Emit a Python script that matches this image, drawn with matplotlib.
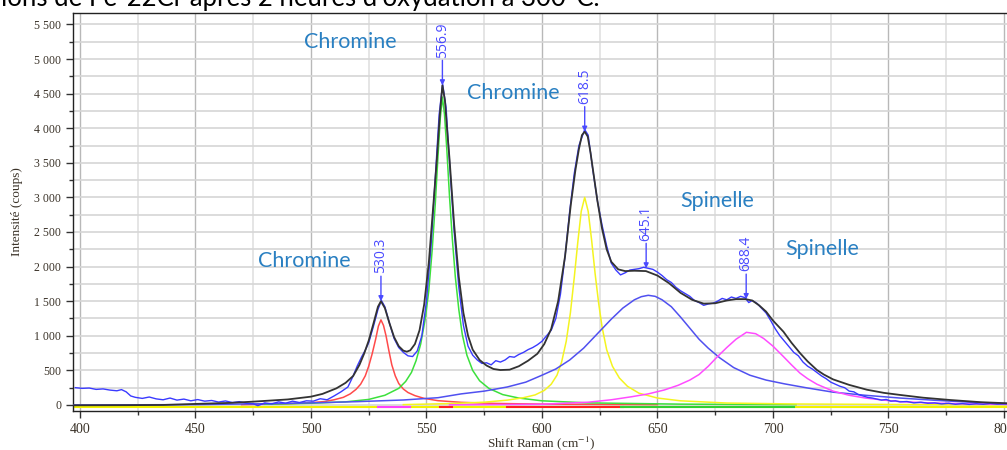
import matplotlib
matplotlib.use("Agg")
import matplotlib.pyplot as plt
from matplotlib.ticker import MultipleLocator, FuncFormatter

plt.rcParams['mathtext.fontset'] = 'stix'

# measured spectrum (blue)
exp_x = [398, 401, 404, 407, 410, 413, 416, 418, 420, 422, 424, 427, 430, 433, 436, 439, 442, 445,
         448, 451, 454, 457, 460, 463, 466, 469, 472, 475, 477, 480, 483, 486, 489, 492, 495, 498,
         501, 504, 507, 510, 513, 516, 518, 520, 522, 523.5, 525, 527, 529, 530.5, 532, 534, 536,
         538, 540, 542, 544, 546, 548, 550, 552, 554, 555.5, 557, 558.5, 560, 562, 564, 566, 568,
         570, 572, 574, 576, 578, 580, 582, 584, 586, 588, 590, 592, 594, 596, 598, 600, 602, 604,
         606, 608, 610, 612, 614, 616, 618.5, 620, 622, 624, 626, 628, 630, 632, 634, 636, 638, 640,
         642, 644, 646, 648, 650, 652, 654, 656, 658, 660, 662, 664, 666, 668, 670, 672, 674, 676,
         678, 680, 682, 684, 686, 688, 689.5, 691, 693, 695, 697, 699, 701, 703, 705, 707, 709, 711,
         713, 715, 717, 719, 721, 723, 725, 727, 729, 731, 733, 735, 737, 739, 741, 743, 745, 747,
         749, 751, 753, 755, 758, 761, 764, 767, 770, 773, 776, 779, 782, 785, 788, 791, 794, 797, 801]
exp_y = [250, 240, 245, 225, 232, 215, 205, 222, 190, 130, 110, 95, 115, 88, 75, 100, 70, 85,
         60, 78, 55, 65, 42, 58, 35, 48, 25, 18, -10, 30, 15, 45, 25, 55, 35, 60,
         55, 90, 75, 130, 190, 260, 400, 560, 700, 790, 900, 1130, 1380, 1510, 1420, 1180, 960,
         830, 760, 710, 700, 780, 1000, 1500, 2300, 3400, 4200, 4640, 4300, 3500, 2500, 1700, 1150, 850,
         720, 650, 600, 610, 580, 640, 620, 650, 700, 690, 730, 760, 800, 830, 870, 920, 1000, 1080,
         1250, 1600, 2150, 2800, 3350, 3750, 3980, 3900, 3400, 2950, 2600, 2300, 2050, 1950, 1880, 1910, 1950, 1960,
         1970, 1990, 1975, 1960, 1920, 1870, 1810, 1770, 1700, 1650, 1610, 1570, 1510, 1480, 1440, 1460, 1470, 1500,
         1540, 1520, 1560, 1540, 1570, 1550, 1480, 1510, 1470, 1400, 1330, 1220, 1100, 1000, 920, 840, 760, 710,
         620, 560, 520, 470, 420, 380, 330, 300, 270, 250, 200, 190, 150, 130, 110, 100, 85, 70,
         80, 55, 60, 45, 50, 30, 40, 25, 30, 15, 25, 10, 20, 8, 18, 10, 22, 12, 15]

# total fit (black)
fit_x = [397, 420, 436, 450, 465, 475, 490, 500, 505, 511, 515, 518.3, 521, 523, 525, 527, 529, 530.3,
         532, 534, 536, 538, 540, 541.5, 543, 545, 547, 549, 551, 553, 554.5, 555.8, 556.9, 558, 559,
         560, 562, 564, 566, 568, 570, 573, 576, 579, 582, 586, 590, 594, 598, 601, 604, 607, 610,
         612.5, 614.5, 616, 617.3, 618.5, 619.8, 621, 622.5, 624, 626, 628, 630, 633, 636, 640, 645,
         650, 655, 660, 665, 670, 675, 680, 684, 688, 691, 694, 697, 700, 704.5, 708, 711.7, 715,
         719, 722, 726, 733, 740.7, 748, 755, 765, 776.6, 790, 801]
fit_y = [-5, -3, 0, 15, 30, 48, 80, 120, 160, 240, 320, 420, 580, 740, 930, 1170, 1420, 1500,
         1400, 1180, 980, 850, 785, 770, 790, 880, 1080, 1450, 2050, 2900, 3550, 4200, 4620, 4400, 3950,
         3550, 2600, 1850, 1330, 1000, 800, 650, 570, 520, 505, 510, 560, 640, 740, 880, 1100, 1500, 2150,
         2900, 3400, 3700, 3900, 3950, 3880, 3650, 3300, 2950, 2550, 2250, 2070, 1960, 1935, 1940, 1935,
         1870, 1760, 1620, 1520, 1465, 1470, 1510, 1530, 1530, 1510, 1440, 1350, 1220, 1060, 900, 750, 630,
         506, 440, 370, 290, 220, 175, 145, 105, 72, 40, 25]

# fitted components
red_x = [470, 490, 500, 506, 510, 514, 517, 519.5, 521.5, 523.5, 525, 526.5, 528, 529.2, 530.3, 531.4,
         532.5, 533.7, 535, 536.5, 538, 540, 542, 545, 549, 555, 565, 580, 600, 650]
red_y = [5, 18, 32, 50, 75, 110, 160, 225, 300, 420, 560, 740, 950, 1140, 1230, 1150,
         1000, 790, 580, 420, 310, 230, 180, 135, 95, 62, 38, 22, 12, 5]

green_x = [480, 500, 515, 525, 532, 538, 541, 543.5, 545.5, 547.5, 549.5, 551, 552.5, 553.8, 555, 556,
           556.9, 557.8, 558.8, 560, 561.2, 562.5, 564, 565.5, 567.5, 570, 573, 577, 583, 590, 600,
           620, 660, 710]
green_y = [10, 25, 45, 80, 140, 240, 340, 470, 640, 880, 1250, 1650, 2250, 2900, 3600, 4150,
           4450, 4200, 3700, 3000, 2400, 1850, 1380, 1020, 720, 500, 350, 240, 150, 100, 60,
           30, 12, 5]

yellow_x = [540, 560, 575, 585, 592, 597, 601, 604, 606.5, 608.5, 610.5, 612.3, 614, 615.5, 617, 618.5,
            620, 621.5, 623, 624.5, 626, 628, 630.5, 633.5, 637, 642, 650, 660, 680, 710, 760, 801]
yellow_y = [5, 20, 40, 70, 105, 145, 210, 300, 430, 620, 920, 1330, 1850, 2350, 2800, 3000,
            2800, 2380, 1900, 1480, 1130, 800, 560, 390, 270, 170, 100, 60, 28, 14, 6, 3]

spin1_x = [397, 450, 480, 500, 520, 540, 555, 565, 575, 585, 593, 600, 606, 612, 618, 624, 630, 635,
           640, 643, 646, 649, 652, 656, 660, 664, 668, 672, 677, 683, 690, 697, 705, 715, 726, 740,
           755, 770, 785, 801]
spin1_y = [0, 5, 18, 30, 48, 72, 105, 160, 200, 260, 330, 430, 520, 650, 820, 1030, 1240, 1400,
           1520, 1565, 1585, 1570, 1520, 1420, 1270, 1110, 950, 820, 680, 540, 430, 360, 305, 245, 185, 140,
           100, 68, 40, 20]

mag_x = [560, 600, 620, 630, 639, 646, 653, 659, 664, 668, 672, 676, 680, 684, 688.5, 692.5, 696, 700,
         704.5, 708, 711.7, 715, 719, 726, 733, 740, 748, 755, 770, 785, 801]
mag_y = [2, 10, 40, 75, 120, 160, 217, 285, 360, 440, 560, 700, 830, 950, 1050, 1030, 960, 850,
         700, 580, 460, 380, 300, 200, 140, 100, 70, 48, 27, 15, 8]

peak_pos = [530.3, 556.9, 618.5, 645.1, 688.4]
peak_top = [1500, 4620, 3950, 1975, 1530]
peak_txt = ['530.3', '556.9', '618.5', '645.1', '688.4']

phase_txt = ['Chromine', 'Chromine', 'Chromine', 'Spinelle', 'Spinelle']
phase_x = [497, 567.5, 477, 659.7, 705.2]
phase_y = [5246, 4509, 2081, 2948, 2254]

fig = plt.figure(figsize=(10.07, 4.5), dpi=100)
ax = fig.add_axes([0.0725, 0.0867, 0.9275, 0.8844])

# baseline bars under the curves
ax.plot([397, 801.3], [-32, -32], color='#f2f200', lw=1.5, zorder=2)
ax.plot([529, 543], [-32, -32], color='#ff40ff', lw=1.5, zorder=2)
ax.plot([556, 561], [-32, -32], color='#ff2020', lw=1.5, zorder=2)
ax.plot([585, 635], [-32, -32], color='#ff2020', lw=1.5, zorder=2)
ax.plot([634, 709], [-32, -32], color='#30d030', lw=1.5, zorder=2)

ax.plot(red_x, red_y, color='#ff4a4a', lw=1.1, zorder=3)
ax.plot(green_x, green_y, color='#3ce03c', lw=1.1, zorder=3)
ax.plot(yellow_x, yellow_y, color='#f4f420', lw=1.1, zorder=3)
ax.plot(spin1_x, spin1_y, color='#5050f0', lw=1.1, zorder=3)
ax.plot(mag_x, mag_y, color='#ff4cff', lw=1.1, zorder=3)
ax.plot(exp_x, exp_y, color='#3a3aff', lw=1.0, zorder=4)
ax.plot(fit_x, fit_y, color='#333333', lw=1.3, zorder=5)

for x, y, t in zip(peak_pos, peak_top, peak_txt):
    ax.annotate('', xy=(x, y), xytext=(0, 18), textcoords='offset points',
                arrowprops=dict(arrowstyle='-|>', color='#4a4aff', lw=1.0,
                                mutation_scale=7, shrinkA=0, shrinkB=0), zorder=6)
    ax.annotate(t, xy=(x, y), xytext=(0, 20), textcoords='offset points',
                rotation=90, ha='center', va='bottom', color='#4a4aff',
                fontsize=10, family='Open Sans', zorder=6)

for t, x, y in zip(phase_txt, phase_x, phase_y):
    ax.text(x, y, t, color='#2a80c2', fontsize=15.5, family='Lato', va='center', ha='left')

ax.set_xlim(397, 801.3)
ax.set_ylim(-87, 5665)
ax.xaxis.set_major_locator(MultipleLocator(50))
ax.xaxis.set_minor_locator(MultipleLocator(25))
ax.yaxis.set_major_locator(MultipleLocator(500))
ax.yaxis.set_minor_locator(MultipleLocator(250))
ax.yaxis.set_major_formatter(FuncFormatter(lambda v, p: f"{int(v):,}".replace(',', ' ')))

ax.grid(which='major', axis='x', color='#b8b8b8', lw=1.0, zorder=0)
ax.grid(which='minor', axis='x', color='#e0e0e0', lw=1.2, zorder=0)
ax.grid(which='both', axis='y', color='#d6d6d6', lw=1.2, zorder=0)
ax.set_axisbelow(True)

ax.spines['right'].set_visible(False)
for s in ['left', 'bottom', 'top']:
    ax.spines[s].set_linewidth(1.0)
    ax.spines[s].set_color('#222222')

ax.tick_params(which='major', length=5, width=1, color='#333333', labelcolor='#3a3228')
ax.tick_params(which='minor', length=3, width=1, color='#333333')
for lab in ax.get_xticklabels():
    lab.set_family('Liberation Serif')
    lab.set_fontsize(10)
for lab in ax.get_yticklabels():
    lab.set_family('Liberation Serif')
    lab.set_fontsize(8.5)

fig.text(541 / 1007, 1 - 443 / 450, 'Shift Raman (cm$^{-1}$)', ha='center', va='center',
         fontsize=9.5, family='Liberation Serif', color='#3a3228')
fig.text(17 / 1007, 1 - 212 / 450, 'Intensité (coups)', ha='center', va='center', rotation=90,
         fontsize=9.5, family='Liberation Serif', color='#3a3228')

fig.text(0.001, 0.986, "ions de Fe-22Cr après 2 heures d'oxydation à 300°C.", ha='left',
         va='baseline', fontsize=18.5, family='Lato', color='black')

fig.savefig('out.png', dpi=100)
